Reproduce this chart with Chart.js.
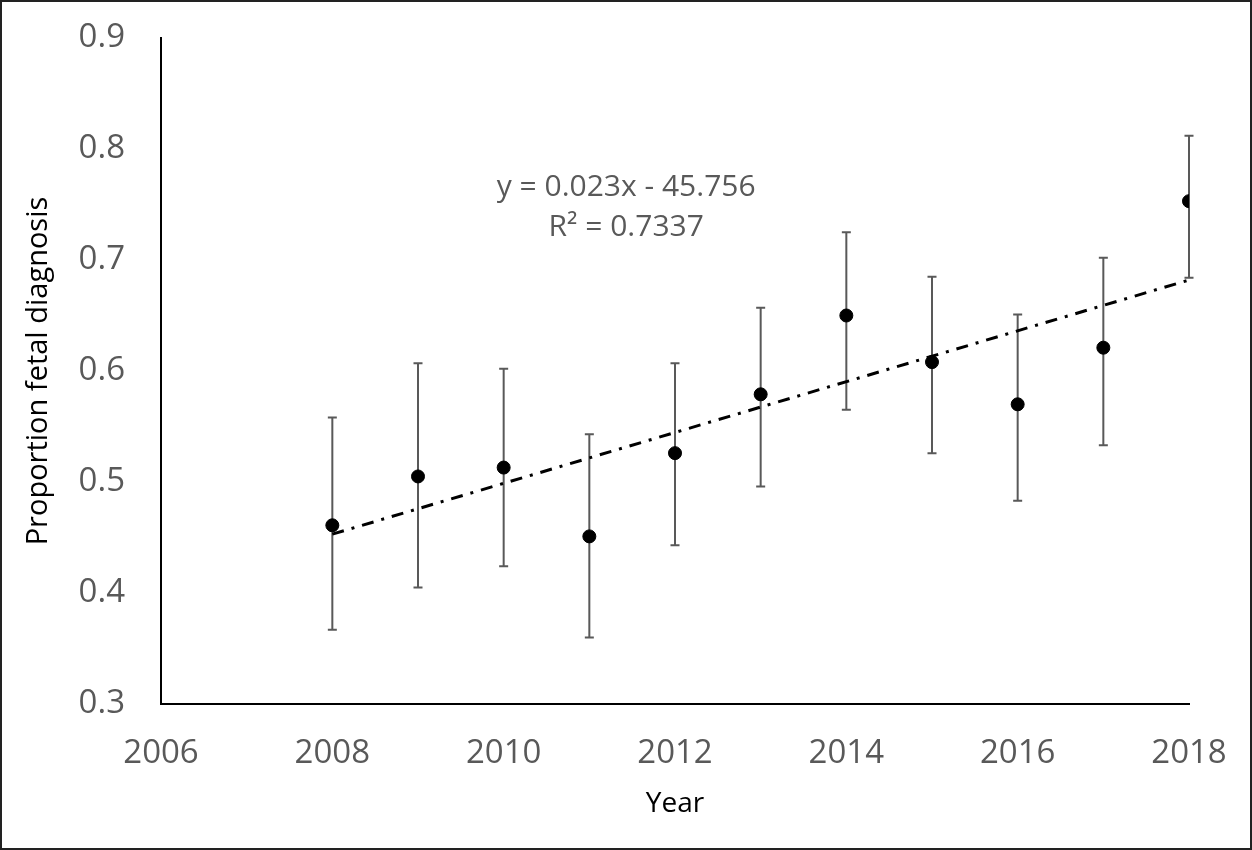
<!DOCTYPE html>
<html>
<head>
<meta charset="utf-8">
<script src="https://cdn.jsdelivr.net/npm/chart.js@4.4.0/dist/chart.umd.min.js"></script>
<style>
  html, body { margin: 0; padding: 0; background: #fff; }
  #wrap { position: relative; width: 1252px; height: 850px; }
  #frame { position: absolute; left: 0; top: 0; width: 1252px; height: 850px; box-sizing: border-box; border: 2px solid #222; pointer-events: none; }
</style>
</head>
<body>
<div id="wrap">
  <canvas id="fetalChart" width="1252" height="850"></canvas>
  <div id="frame"></div>
</div>
<script>
    // values
    const years = [2008, 2009, 2010, 2011, 2012, 2013, 2014, 2015, 2016, 2017, 2018];
    const proportion = [0.461, 0.505, 0.513, 0.451, 0.526, 0.579, 0.650, 0.608, 0.570, 0.621, 0.753];
    const ciLow  = [0.367, 0.405, 0.424, 0.360, 0.443, 0.496, 0.565, 0.526, 0.483, 0.533, 0.684];
    const ciHigh = [0.558, 0.607, 0.602, 0.543, 0.607, 0.657, 0.725, 0.685, 0.651, 0.702, 0.812];

    // linear trendline ends, as drawn
    const trendYears = [2008, 2018];
    const trendValues = [0.453, 0.682];
    const trendLabel = ['y = 0.023x - 45.756', 'R² = 0.7337'];

    const xTicks = [2006, 2008, 2010, 2012, 2014, 2016, 2018];
    const yTicks = [0.3, 0.4, 0.5, 0.6, 0.7, 0.8, 0.9];

    const FONT = "'Open Sans', 'DejaVu Sans', sans-serif";
    const GREY = '#595959';

    const errorBars = {
        id: 'errorBars',
        beforeDatasetsDraw(chart) {
            const { ctx, scales: { x, y } } = chart;
            ctx.save();
            ctx.strokeStyle = GREY;
            ctx.lineWidth = 2;
            years.forEach((yr, i) => {
                const px = x.getPixelForValue(yr);
                const top = y.getPixelForValue(ciHigh[i]);
                const bot = y.getPixelForValue(ciLow[i]);
                ctx.beginPath();
                ctx.moveTo(px, top); ctx.lineTo(px, bot);
                ctx.moveTo(px - 4.5, top); ctx.lineTo(px + 4.5, top);
                ctx.moveTo(px - 4.5, bot); ctx.lineTo(px + 4.5, bot);
                ctx.stroke();
            });
            ctx.restore();
        }
    };

    const trendText = {
        id: 'trendText',
        afterDraw(chart) {
            const { ctx, scales: { x, y } } = chart;
            ctx.save();
            ctx.fillStyle = GREY;
            ctx.font = "30px " + FONT;
            ctx.textAlign = 'center';
            ctx.textBaseline = 'middle';
            const cx = x.getPixelForValue(2011.43);
            ctx.fillText(trendLabel[0], cx, y.getPixelForValue(0.765));
            ctx.fillText(trendLabel[1], cx, y.getPixelForValue(0.729));
            ctx.restore();
        }
    };

    const ctx = document.getElementById('fetalChart').getContext('2d');
    new Chart(ctx, {
        type: 'scatter',
        data: {
            datasets: [
                {
                    label: 'Proportion',
                    data: years.map((yr, i) => ({ x: yr, y: proportion[i] })),
                    backgroundColor: '#000',
                    borderColor: '#000',
                    pointRadius: 6.5,
                    pointHoverRadius: 6.5,
                    order: 0
                },
                {
                    label: 'Trend',
                    type: 'line',
                    data: trendYears.map((yr, i) => ({ x: yr, y: trendValues[i] })),
                    borderColor: '#000',
                    borderWidth: 3,
                    borderDash: [12, 8, 3, 8],
                    pointRadius: 0,
                    fill: false,
                    order: 1
                }
            ]
        },
        options: {
            responsive: false,
            animation: false,
            devicePixelRatio: 1,
            layout: { padding: { top: 38, right: 63, bottom: 0, left: 0 } },
            plugins: { legend: { display: false }, tooltip: { enabled: false } },
            scales: {
                x: {
                    type: 'linear',
                    min: 2006, max: 2018,
                    afterBuildTicks: (scale) => { scale.ticks = xTicks.map(v => ({ value: v })); },
                    afterFit: (scale) => {
                        scale.height = 146;
                        scale.paddingLeft = 0; scale.paddingRight = 0;
                    },
                    grid: { display: false, drawTicks: false },
                    border: { display: true, color: '#000', width: 2 },
                    ticks: { color: GREY, font: { family: FONT, size: 33 }, padding: 30, maxRotation: 0, callback: v => String(v) },
                    title: { display: true, text: 'Year', color: '#000', font: { family: FONT, size: 28 }, padding: { top: 0, bottom: 29 } }
                },
                y: {
                    min: 0.3, max: 0.9,
                    afterBuildTicks: (scale) => { scale.ticks = yTicks.map(v => ({ value: v })); },
                    afterFit: (scale) => {
                        scale.width = 161;
                        scale.paddingTop = 0; scale.paddingBottom = 0;
                    },
                    grid: { display: false, drawTicks: false },
                    border: { display: true, color: '#000', width: 2 },
                    ticks: { color: GREY, font: { family: FONT, size: 33 }, padding: 36, callback: v => v.toFixed(1) },
                    title: { display: true, text: 'Proportion fetal diagnosis', color: '#000', font: { family: FONT, size: 29 }, padding: { top: 21, bottom: 0 } }
                }
            }
        },
        plugins: [errorBars, trendText]
    });
</script>
</body>
</html>
